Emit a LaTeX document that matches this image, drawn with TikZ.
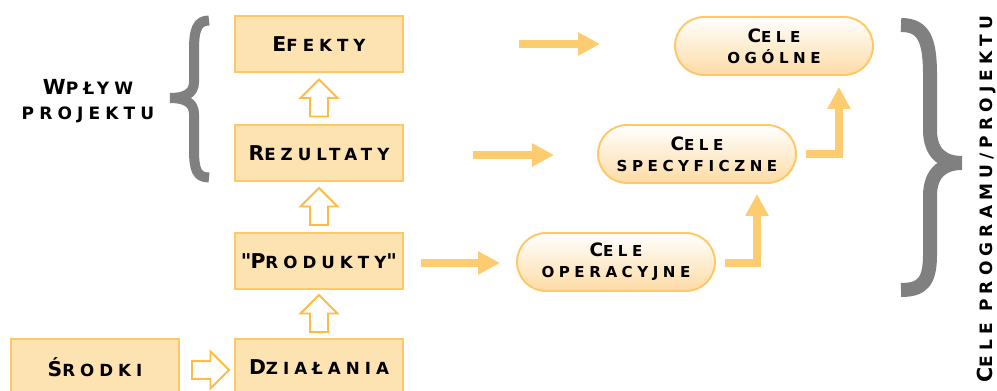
\documentclass[tikz,border=0pt]{standalone}
\usepackage{fontspec}
\usepackage{xcolor}
\usepackage{tikz}
\usetikzlibrary{shapes.arrows, arrows.meta, positioning, calc}
\newfontfamily\diafont[LetterSpace=30]{DejaVu Sans Bold}
\definecolor{boxfill}{HTML}{FEE3B2}
\definecolor{boxline}{HTML}{FDC865}
\definecolor{hollowline}{HTML}{FCBC45}
\definecolor{pillfill}{HTML}{FDDBA4}
\definecolor{arrowfill}{HTML}{FECC70}
\definecolor{bracegray}{HTML}{808080}
\def\bigsz{10.5}
\def\smallsz{8.6}
\newcommand{\kap}[2]{{\fontsize{\bigsz}{15}\selectfont #1}{\fontsize{\smallsz}{15}\selectfont\MakeUppercase{#2}}}
\newcommand{\kapsmall}[1]{{\fontsize{\smallsz}{15}\selectfont\MakeUppercase{#1}}}

\begin{document}
\begin{tikzpicture}[x=0.02cm, y=-0.02cm,
    box/.style={rectangle, draw=boxline, fill=boxfill, line width=1.1pt, minimum width=3.36cm, minimum height=1.12cm, font=\diafont\def\bigsz{11.6}\def\smallsz{9.5}},
    pill/.style={rectangle, rounded corners=0.58cm, draw=boxline, top color=white, bottom color=pillfill, line width=1.1pt, minimum width=3.96cm, minimum height=1.16cm, align=center, font=\diafont},
    label/.style={font=\diafont\def\bigsz{11.8}\def\smallsz{9.7}},
    hollow/.style={single arrow, draw=hollowline, fill=white, line width=1.1pt, minimum height=0.74cm, inner xsep=0pt, inner ysep=0.16cm, single arrow head extend=0.19cm},
    flow/.style={draw=arrowfill, line width=0.16cm, -{Triangle[length=0.44cm, width=0.44cm]}},
    brace/.style={draw=bracegray, line cap=butt}
]
\useasboundingbox (0,0) rectangle (997,391);

% Boxes
\node[box] (efe) at (319,44) {\kap{E}{fekty}};
\node[box] (rez) at (319,153) {\kap{R}{ezultaty}};
\node[box] (prod) at (319,261) {{\fontsize{\bigsz}{15}\selectfont"\kern-0.6pt}\kap{P}{rodukty}{\fontsize{\bigsz}{15}\selectfont"}};
\node[box] (dzia) at (319,367) {\kap{D}{ziałania}};
\node[box] (srod) at (95,367) {\kap{Ś}{rodki}};

% Goals
\node[pill] (ogol) at (774,46) {\kap{C}{ele}\\\kapsmall{ogólne}};
\node[pill] (spec) at (697,154) {\kap{C}{ele}\\\kapsmall{specyficzne}};
\node[pill] (oper) at (616,262) {\kap{C}{ele}\\\kapsmall{operacyjne}};

% Hollow arrows
\node[hollow, rotate=90] (up1) at ($(rez.north)!0.5!(efe.south)+(0,4)$) {};
\node[hollow, rotate=90] (up2) at ($(prod.north)!0.5!(rez.south)+(0,4)$) {};
\node[hollow, rotate=90] (up3) at ($(dzia.north)!0.5!(prod.south)+(0,4)$) {};
\node[hollow] (right1) at ($(srod.east)!0.5!(dzia.west)+(-1,3)$) {};

% Solid arrows
\draw[flow, shorten <=2.3cm, shorten >=1.48cm] (efe.east) -- (efe.east -| ogol.west);
\draw[flow, shorten <=1.38cm, shorten >=0.86cm] ([yshift=-0.04cm]rez.east) -- ([yshift=-0.04cm]rez.east -| spec.west);
\draw[flow, shorten <=0.34cm, shorten >=0.32cm] ([yshift=-0.04cm]prod.east) -- ([yshift=-0.04cm]prod.east -| oper.west);
\draw[flow, shorten <=0.18cm, shorten >=0.2cm] ([yshift=-0.02cm]oper.east) -| ([xshift=-0.8cm]spec.south east);
\draw[flow, shorten <=0.18cm, shorten >=0.22cm] (spec.east) -| ([xshift=-0.7cm]ogol.south east);

% Braces
\draw[brace, line width=0.2cm]
  (209,20.5) .. controls (197,20.5) and (194,30) .. (194,50) -- (194,82)
  .. controls (194,94) and (184,98) .. (170,98)
  (170,98) .. controls (184,98) and (194,102) .. (194,114) -- (194,150)
  .. controls (194,170) and (197,177.5) .. (209,177.5);
\draw[brace, line width=0.28cm]
  (901,25) .. controls (924,25) and (930,40) .. (930,75) -- (930,130)
  .. controls (930,155) and (945,163) .. (962,163)
  (962,163) .. controls (945,163) and (930,171) .. (930,196) -- (930,255)
  .. controls (930,282) and (922,290) .. (901,290);

% Labels
\node[label, align=center] (wplyw) at (88,101) {\kap{W}{pływ}\\[2pt]\kapsmall{projektu}};
\node[label, rotate=90] (celeprog) at (986,199) {\kap{C}{ele programu/projektu}};

\end{tikzpicture}
\end{document}
